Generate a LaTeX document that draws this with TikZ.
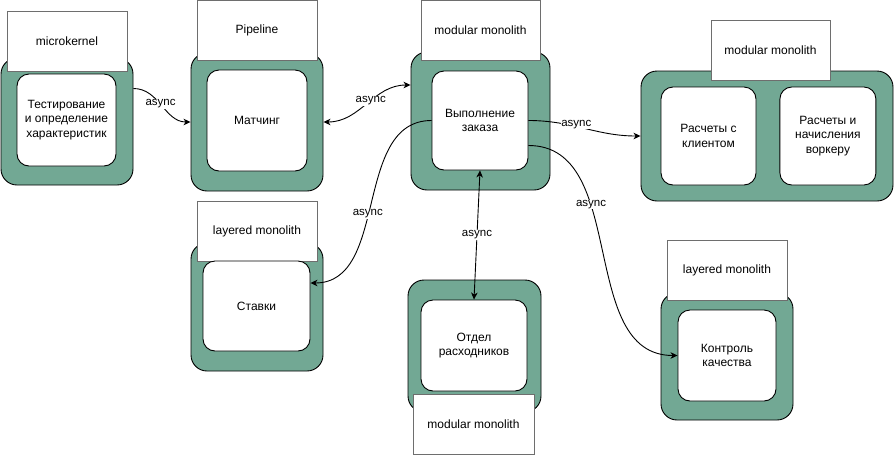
\documentclass[tikz,border=0pt]{standalone}
\usepackage{fontspec}
\setmainfont{Liberation Sans}
\usetikzlibrary{positioning, arrows.meta}

\definecolor{svcgreen}{HTML}{72A894}
\definecolor{tagline}{HTML}{6E6E6E}

\begin{document}
\begin{tikzpicture}[x=1pt, y=-1pt, >={Stealth[length=7pt, width=6.5pt, inset=2pt]}, line width=0.9pt]
                \tikzset{
                    container/.style={draw, fill=svcgreen, rounded corners=16pt, inner sep=0pt},
                    module/.style={draw, fill=white, rounded corners=12pt, inner sep=0pt, align=center,
                        font=\fontsize{12}{14.5}\selectfont},
                    tag/.style={draw=tagline, fill=white, minimum width=120pt, minimum height=60pt,
                        inner sep=0pt, font=\fontsize{12}{14.5}\selectfont},
                    lbl/.style={fill=white, inner sep=0.5pt, font=\fontsize{11.5}{13}\selectfont}
                }
                \useasboundingbox (0,0) rectangle (894,456);

                % containers
                \node[container, minimum width=132pt, minimum height=127pt] (g1) at (67,121.5) {};
                \node[container, minimum width=132pt, minimum height=138pt] (g2) at (257,122) {};
                \node[container, minimum width=139pt, minimum height=138pt] (g3) at (480.5,121) {};
                \node[container, minimum width=252pt, minimum height=130pt] (g4) at (767,136) {};
                \node[container, minimum width=132pt, minimum height=128pt] (g5) at (257,307) {};
                \node[container, minimum width=133pt, minimum height=132pt] (g6) at (474.5,346) {};
                \node[container, minimum width=132pt, minimum height=127pt] (g7) at (727,356.5) {};

                % style tags
                \node[tag] (t1) at (67,41) {microkernel};
                \node[tag] (t2) at (257,30) {Pipeline};
                \node[tag, minimum width=119pt] (t3) at (480.5,30) {modular monolith};
                \node[tag, minimum width=119pt] (t4) at (770.5,50.5) {modular monolith};
                \node[tag] (t5) at (257,231) {layered monolith};
                \node[tag, minimum width=121pt] (t6) at (473.5,424) {modular monolith};
                \node[tag] (t7) at (727,270) {layered monolith};

                % modules
                \node[module, minimum width=99pt, minimum height=92pt] (i1) at (66.5,120)
                    {Тестирование\\и определение\\характеристик};
                \node[module, minimum width=100pt, minimum height=101pt] (i2) at (257,120.5) {Матчинг};
                \node[module, minimum width=96pt, minimum height=99pt] (i3) at (480,120.5) {Выполнение\\заказа};
                \node[module, minimum width=95pt, minimum height=98pt] (i4) at (708.5,136) {Расчеты с\\клиентом};
                \node[module, minimum width=96pt, minimum height=98pt] (i5) [right=23pt of i4] {Расчеты и\\начисления\\воркеру};
                \node[module, minimum width=107pt, minimum height=90pt] (i6) at (256.5,306) {Ставки};
                \node[module, minimum width=106pt, minimum height=91pt] (i7) at (474,345.5) {Отдел\\расходников};
                \node[module, minimum width=98pt, minimum height=91pt] (i8) at (727,355.5) {Контроль\\качества};

                \path[->]
                    ([yshift=33pt]g1.east) edge[out=0, in=180] node[lbl, pos=0.47] {async} (g2.west)
                    (g2.east) edge[<->, out=0, in=180] node[lbl, pos=0.55] {async} ([yshift=36pt]g3.west)
                    (i3.west) edge[out=180, in=0] node[lbl, pos=0.55] {async} ([yshift=23pt]i6.east)
                    (i3.east) edge[out=0, in=180] node[lbl, pos=0.42, yshift=2pt] {async} (g4.west)
                    ([yshift=-25pt]i3.east) edge[out=0, in=180] node[lbl, pos=0.35] {async} (i8.west)
                    (i3.south) edge[<->] node[lbl] {async} (i7.north);

            \end{tikzpicture}
\end{document}
